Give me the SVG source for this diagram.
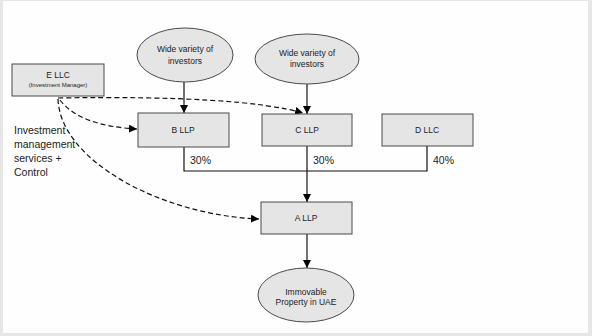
<svg xmlns="http://www.w3.org/2000/svg" width="592" height="336" viewBox="0 0 592 336">
<defs>
<marker id="ah" viewBox="0 0 10 10" refX="10" refY="5" markerWidth="8" markerHeight="8" markerUnits="userSpaceOnUse" orient="auto"><path d="M0,0 L10,5 L0,10 z" fill="#000"/></marker>
<style>
.box{fill:#e5e5e5;stroke:#4a4a4a;stroke-width:1}
.t{font-family:"Liberation Sans",Arial,sans-serif;font-size:8.5px;fill:#222;text-anchor:middle}
.s{font-family:"Liberation Sans",Arial,sans-serif;font-size:6px;fill:#222;text-anchor:middle}
.p{font-family:"Liberation Sans",Arial,sans-serif;font-size:10.5px;fill:#222}
.solid{fill:none;stroke:#111;stroke-width:1.2}
.dash{fill:none;stroke:#111;stroke-width:1.2;stroke-dasharray:5,3}
</style>
</defs>
<rect x="0" y="0" width="592" height="336" fill="#e6e6e6"/>
<rect x="3" y="1" width="585" height="332" fill="#fefefe"/>
<g id="connectors">
<path class="solid" d="M184,82 V113" marker-end="url(#ah)"/>
<path class="solid" d="M307,84 V114" marker-end="url(#ah)"/>
<path class="solid" d="M184,147 V171 H427 V146"/>
<path class="solid" d="M307,146 V202" marker-end="url(#ah)"/>
<path class="solid" d="M307,234 V268" marker-end="url(#ah)"/>
<path class="dash" d="M58,98 Q240,95 303,113" marker-end="url(#ah)"/>
<path class="dash" d="M60,100 Q80,126 137,129" marker-end="url(#ah)"/>
<path class="dash" d="M58,99 C60,160 160,215 259,219" marker-end="url(#ah)"/>
</g>
<g id="E_LLC"><rect class="box" x="12" y="64" width="92" height="32"/><text class="t" x="58" y="78">E LLC</text><text class="s" x="58" y="87">(Investment Manager)</text></g>
<g id="investors1"><ellipse class="box" cx="185" cy="55" rx="48" ry="27"/><text class="t" x="185" y="52">Wide variety of</text><text class="t" x="185" y="64">investors</text></g>
<g id="investors2"><ellipse class="box" cx="307" cy="59" rx="52" ry="25"/><text class="t" x="307" y="56">Wide variety of</text><text class="t" x="307" y="67">investors</text></g>
<g id="B_LLP"><rect class="box" x="138" y="113" width="91" height="34"/><text class="t" x="183" y="133">B LLP</text></g>
<g id="C_LLP"><rect class="box" x="262" y="114" width="90" height="32"/><text class="t" x="307" y="133">C LLP</text></g>
<g id="D_LLC"><rect class="box" x="382" y="114" width="91" height="32"/><text class="t" x="427" y="133">D LLC</text></g>
<g id="A_LLP"><rect class="box" x="261" y="202" width="91" height="32"/><text class="t" x="306" y="221">A LLP</text></g>
<g id="property"><ellipse class="box" cx="306" cy="295" rx="48" ry="27"/><text class="t" x="306" y="295">Immovable</text><text class="t" x="306" y="305">Property in UAE</text></g>
<g id="labels">
<text class="p" x="190" y="164">30%</text>
<text class="p" x="313" y="164">30%</text>
<text class="p" x="433" y="164">40%</text>
<text class="p" x="14" y="134">Investment</text>
<text class="p" x="14" y="148">management</text>
<text class="p" x="14" y="162">services +</text>
<text class="p" x="14" y="176">Control</text>
</g>
</svg>
